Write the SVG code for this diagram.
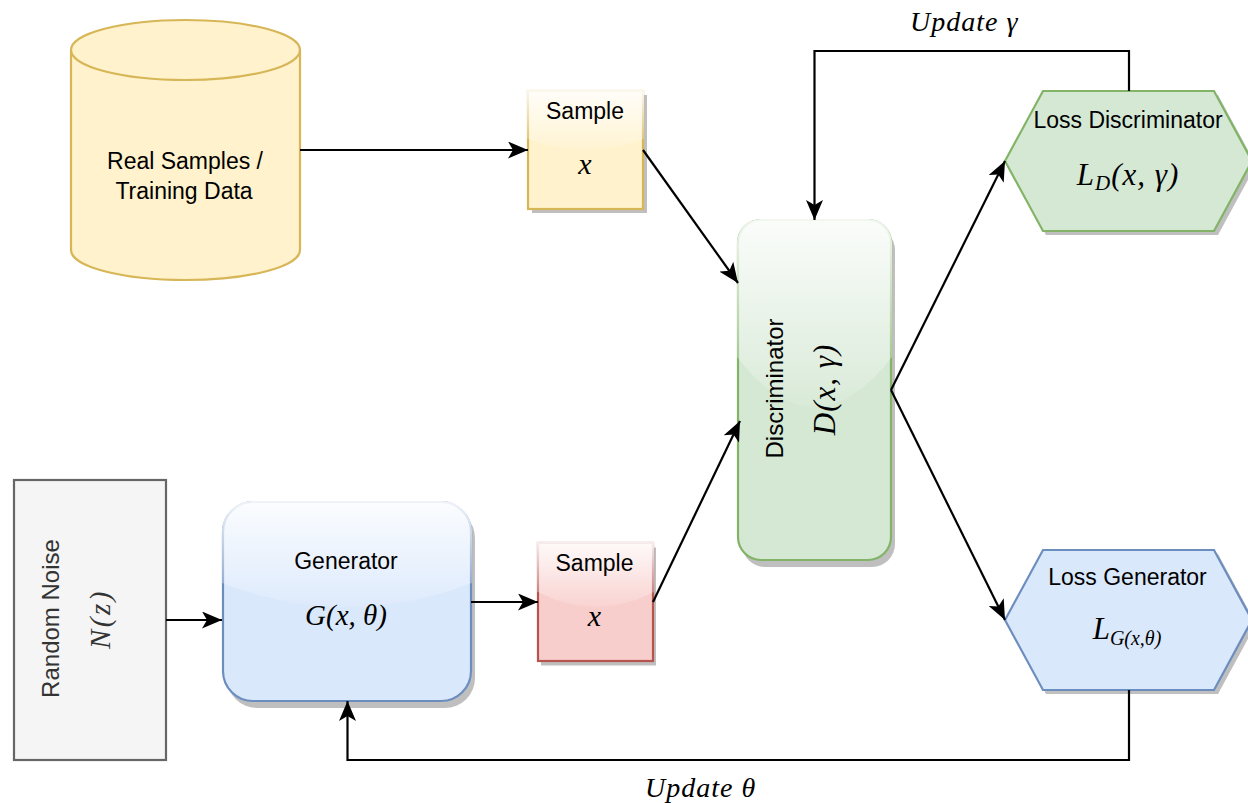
<svg xmlns="http://www.w3.org/2000/svg" width="1248" height="803" viewBox="0 0 1248 803">
<style>
text{font-family:"Liberation Sans",Arial,sans-serif;font-size:23px;fill:#000;text-anchor:middle}
text.r{font-size:24px}
text.m{font-family:"Liberation Serif","Times New Roman",serif;font-style:italic;font-size:30px}
text.u{font-family:"Liberation Serif","Times New Roman",serif;font-style:italic;font-size:28px;text-anchor:start;letter-spacing:1px}
.line{fill:none;stroke:#000;stroke-width:2.2}
.sh{fill:#000;opacity:.25;stroke:none}
.glass{fill:url(#glass);stroke:none}
.yellow{fill:#fff2cc;stroke:#d6b656;stroke-width:2.2}
.green{fill:#d5e8d4;stroke:#82b366;stroke-width:2.2}
.blue{fill:#dae8fc;stroke:#6c8ebf;stroke-width:2.2}
.red{fill:#f8cecc;stroke:#b85450;stroke-width:2.2}
.gray{fill:#f5f5f5;stroke:#666;stroke-width:2.2}
</style>
<defs>
<linearGradient id="glass" x1="0" y1="0" x2="0" y2="1">
<stop offset="0" stop-color="#fff" stop-opacity=".9"/>
<stop offset="1" stop-color="#fff" stop-opacity=".1"/>
</linearGradient>
<marker id="arrow" markerUnits="userSpaceOnUse" viewBox="0 0 20 17" markerWidth="20" markerHeight="17" refX="20" refY="8.5" orient="auto">
<path d="M20 8.500L0 0L5 8.500L0 17Z" fill="#000"/>
</marker>
</defs>

<g id="real-samples">
<path class="yellow" d="M71 50V250A114.500 30 0 0 0 300 250V50A114.500 30 0 0 0 71 50Z"/>
<path d="M71 50A114.500 30 0 0 0 300 50" fill="none" stroke="#d6b656" stroke-width="2.200"/>
<text x="185" y="169">Real Samples /</text>
<text x="184" y="199">Training Data</text>
</g>

<g id="sample-real">
<rect class="sh" x="532" y="95" width="115" height="118"/>
<rect class="yellow" x="528" y="91" width="115" height="118"/>
<path class="glass" d="M527 90H644V139Q585.500 161 528 139H527Z"/>
<text x="585" y="119">Sample</text>
<text class="m" x="585" y="173.500">x</text>
</g>

<g id="discriminator">
<rect class="sh" x="742" y="227" width="153" height="340" rx="23"/>
<rect class="green" x="738" y="220" width="153" height="340" rx="23"/>
<path class="glass" d="M737 357V243A24 24 0 0 1 761 219H868A24 24 0 0 1 892 243V357Q814.500 457 737 357Z"/>
<text class="r" transform="translate(783 388.500) rotate(-90)">Discriminator</text>
<text class="m" style="font-size:31px;letter-spacing:1px" transform="translate(835 389.500) rotate(-90)">D(x, γ)</text>
</g>

<g id="loss-discriminator">
<path class="sh" d="M1008 165L1046 95H1218L1256 165L1218 235H1046Z"/>
<path class="green" d="M1005 161L1043 91H1214L1252 161L1214 231H1043Z"/>
<text x="1128" y="128">Loss Discriminator</text>
<text class="m" style="font-size:31px;letter-spacing:1px" x="1128" y="185">L<tspan font-size="21" dy="5">D</tspan><tspan dy="-5">(x, γ)</tspan></text>
</g>

<g id="loss-generator">
<path class="sh" d="M1008 624L1046 554H1218L1256 624L1218 694H1046Z"/>
<path class="blue" d="M1005 620L1043 550H1214L1252 620L1214 690H1043Z"/>
<text x="1127.500" y="585">Loss Generator</text>
<text class="m" x="1127" y="639" style="font-size:31px">L<tspan font-size="20" dy="6">G(x,θ)</tspan></text>
</g>

<g id="random-noise">
<rect class="gray" x="14" y="480" width="152" height="280"/>
<text class="r" style="fill:#333" transform="translate(59 618.500) rotate(-90)">Random Noise</text>
<text class="m" style="fill:#333;font-size:29px;letter-spacing:2.5px" transform="translate(110 619) rotate(-90)">N(z)</text>
</g>

<g id="generator">
<rect class="sh" x="227" y="508" width="248" height="200" rx="30"/>
<rect class="blue" x="223" y="502" width="248" height="199" rx="30"/>
<path class="glass" d="M222 583V531A30 30 0 0 1 252 501H442A30 30 0 0 1 472 531V583Q347 631 222 583Z"/>
<text x="346" y="569">Generator</text>
<text class="m" style="font-size:29px" x="346" y="625">G(x, θ)</text>
</g>

<g id="sample-fake">
<rect class="sh" x="541" y="547.500" width="115" height="118"/>
<rect class="red" x="538" y="543" width="115" height="118"/>
<path class="glass" d="M537 542H654V592Q595.500 622 538 592H537Z"/>
<text x="594.500" y="571">Sample</text>
<text class="m" x="594.500" y="626">x</text>
</g>

<g id="connectors">
<path class="line" marker-end="url(#arrow)" d="M300 150H528"/>
<path class="line" marker-end="url(#arrow)" d="M643 150L738 283"/>
<path class="line" marker-end="url(#arrow)" d="M653 602L740 421"/>
<path class="line" marker-end="url(#arrow)" d="M891 390L1005 161"/>
<path class="line" marker-end="url(#arrow)" d="M891 390L1005 620"/>
<path class="line" marker-end="url(#arrow)" d="M1129 91V51H814.500V220"/>
<path class="line" marker-end="url(#arrow)" d="M1129 690V760H347.500V701"/>
<path class="line" marker-end="url(#arrow)" d="M166 620H222"/>
<path class="line" marker-end="url(#arrow)" d="M471 602H538"/>
</g>

<g id="edge-labels">
<text class="u" x="910" y="31">Update γ</text>
<text class="u" x="645" y="797">Update θ</text>
</g>
</svg>
